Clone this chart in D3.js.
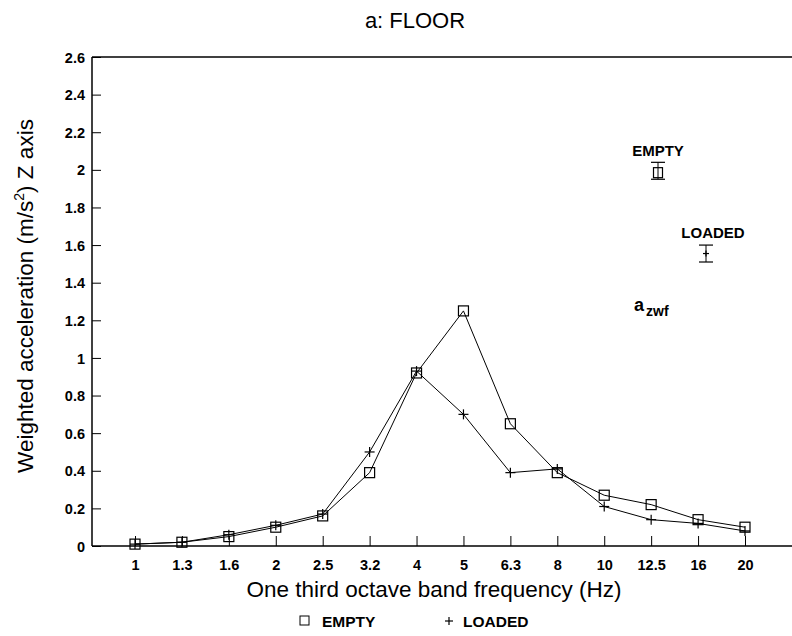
<!DOCTYPE html>
<html><head><meta charset="utf-8">
<script src="https://cdn.jsdelivr.net/npm/d3@7"></script>
<style>body{margin:0;background:#fff}svg{display:block}text{font-family:"Liberation Sans",Arial,sans-serif;fill:#000}</style>
</head><body><svg id="c" width="792" height="636"></svg>
<script>
const categories = ["1","1.3","1.6","2","2.5","3.2","4","5","6.3","8","10","12.5","16","20"];
const emptyValues = [0.01,0.02,0.05,0.10,0.16,0.39,0.92,1.25,0.65,0.39,0.27,0.22,0.14,0.10];
const loadedValues = [0.01,0.02,0.06,0.11,0.17,0.50,0.93,0.70,0.39,0.41,0.21,0.14,0.12,0.08];
const yTicks = [0,0.2,0.4,0.6,0.8,1,1.2,1.4,1.6,1.8,2,2.2,2.4,2.6];
// a_zwf summary: [mean, low, high]
const emptyZwf = [1.985, 1.95, 2.04];
const loadedZwf = [1.555, 1.51, 1.60];

const svg = d3.select("#c");
const L = 92, R = 792, T = 57, B = 546;
const x = d3.scalePoint().domain(categories).range([135, 745]);
const y = d3.scaleLinear().domain([0, 2.6]).range([B, T]);

// frame lines
svg.append("line").attr("x1",L).attr("x2",R).attr("y1",T).attr("y2",T).attr("stroke","#000").attr("stroke-width",1.5);
svg.append("line").attr("x1",L).attr("x2",R).attr("y1",B).attr("y2",B).attr("stroke","#000").attr("stroke-width",1.5);
svg.append("line").attr("x1",L).attr("x2",L).attr("y1",T).attr("y2",B).attr("stroke","#000").attr("stroke-width",1.5);

// y axis
const ya = svg.append("g").attr("transform",`translate(${L},0)`)
  .call(d3.axisRight(y).tickValues(yTicks).tickSize(9).tickFormat(d3.format("~g")));
ya.select(".domain").remove();
ya.selectAll(".tick line").attr("stroke","#000");
ya.selectAll(".tick text").attr("x",-7).attr("text-anchor","end").style("font-size","14.5px").style("font-weight","bold").attr("dy","0.35em");

// x axis
const xa = svg.append("g").attr("transform",`translate(0,${B})`)
  .call(d3.axisTop(x).tickSize(10));
xa.select(".domain").remove();
xa.selectAll(".tick line").attr("stroke","#000");
xa.selectAll(".tick text").attr("y",19).attr("dy","0.35em").style("font-size","14.5px").style("font-weight","bold");

const line = d3.line().x((d,i)=>x(categories[i])).y(d=>y(d));
svg.append("path").datum(emptyValues).attr("d",line).attr("fill","none").attr("stroke","#000").attr("stroke-width",1);
svg.append("path").datum(loadedValues).attr("d",line).attr("fill","none").attr("stroke","#000").attr("stroke-width",1);

// markers
svg.selectAll(".sq").data(emptyValues).join("rect").attr("class","sq")
  .attr("x",(d,i)=>x(categories[i])-5).attr("y",d=>y(d)-5).attr("width",10).attr("height",10)
  .attr("fill","none").attr("stroke","#000").attr("stroke-width",1.2);
const plus = (g, cx, cy, s) => {
  g.append("line").attr("x1",cx-s).attr("x2",cx+s).attr("y1",cy).attr("y2",cy).attr("stroke","#000").attr("stroke-width",1.2);
  g.append("line").attr("x1",cx).attr("x2",cx).attr("y1",cy-s).attr("y2",cy+s).attr("stroke","#000").attr("stroke-width",1.2);
};
const pg = svg.append("g");
loadedValues.forEach((d,i)=>plus(pg, x(categories[i]), y(d), 5));

// title & axis labels
svg.append("text").attr("x",415).attr("y",28).attr("text-anchor","middle").style("font-size","22px").text("a: FLOOR");
svg.append("text").attr("x",434).attr("y",597).attr("text-anchor","middle").style("font-size","22.5px").text("One third octave band frequency (Hz)");
svg.append("text").attr("transform",`translate(33,296) rotate(-90)`).attr("text-anchor","middle").style("font-size","22.5px")
  .html('Weighted acceleration (m/s<tspan dy="-9" style="font-size:14px">2</tspan><tspan dy="9">) Z axis</tspan>');

// annotations
const ex = 658, lx = 706;
svg.append("text").attr("x",ex).attr("y",156).attr("text-anchor","middle").style("font-size","15px").style("font-weight","bold").text("EMPTY");
const eb = svg.append("g");
eb.append("line").attr("x1",ex).attr("x2",ex).attr("y1",y(emptyZwf[1])).attr("y2",y(emptyZwf[2])).attr("stroke","#000");
[1,2].forEach(k=>eb.append("line").attr("x1",ex-7).attr("x2",ex+7).attr("y1",y(emptyZwf[k])).attr("y2",y(emptyZwf[k])).attr("stroke","#000").attr("stroke-width",1.2));
eb.append("rect").attr("x",ex-4.5).attr("y",y(emptyZwf[0])-5).attr("width",9).attr("height",10).attr("fill","none").attr("stroke","#000").attr("stroke-width",1.2);

svg.append("text").attr("x",713).attr("y",238).attr("text-anchor","middle").style("font-size","15px").style("font-weight","bold").text("LOADED");
const lb = svg.append("g");
lb.append("line").attr("x1",lx).attr("x2",lx).attr("y1",y(loadedZwf[1])).attr("y2",y(loadedZwf[2])).attr("stroke","#000");
[1,2].forEach(k=>lb.append("line").attr("x1",lx-7).attr("x2",lx+7).attr("y1",y(loadedZwf[k])).attr("y2",y(loadedZwf[k])).attr("stroke","#000").attr("stroke-width",1.2));
plus(lb, lx, y(loadedZwf[0]), 3);

svg.append("text").attr("x",634).attr("y",311).style("font-size","18px").style("font-weight","bold")
  .html('a<tspan dx="2" dy="5" style="font-size:14px">zwf</tspan>');

// legend
svg.append("rect").attr("x",300).attr("y",616).attr("width",9).attr("height",9).attr("fill","none").attr("stroke","#000");
svg.append("text").attr("x",322).attr("y",627).style("font-size","15.5px").style("font-weight","bold").text("EMPTY");
plus(svg.append("g"), 449, 621, 4);
svg.append("text").attr("x",463).attr("y",627).style("font-size","15.5px").style("font-weight","bold").text("LOADED");
</script></body></html>
